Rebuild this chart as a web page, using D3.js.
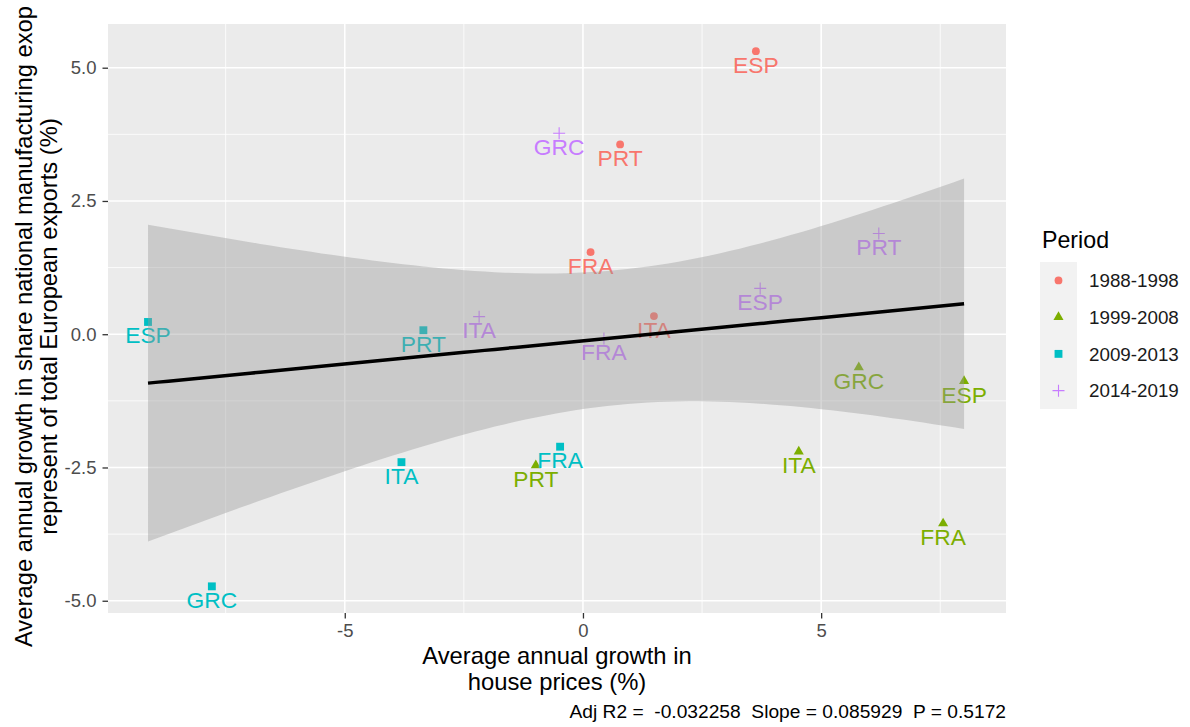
<!DOCTYPE html>
<html>
<head>
<meta charset="utf-8">
<script src="https://cdn.jsdelivr.net/npm/d3@7"></script>
<style>
  html, body { margin: 0; padding: 0; background: #ffffff; }
  svg { display: block; font-family: "Liberation Sans", Arial, sans-serif; }
</style>
</head>
<body>
<svg id="chart" width="1190" height="727"></svg>
<script>
// ---------------- DATA ----------------
const periods = ["1988-1998", "1999-2008", "2009-2013", "2014-2019"];
const periodColors = ["#F8766D", "#7CAE00", "#00BFC4", "#C77CFF"];
const periodShapes = ["circle", "triangle", "square", "plus"];

const p1Countries = ["ESP", "PRT", "FRA", "ITA"];
const p1House = [3.63, 0.78, 0.16, 1.49];
const p1Export = [5.31, 3.56, 1.54, 0.34];

const p2Countries = ["GRC", "ESP", "ITA", "FRA", "PRT"];
const p2House = [5.79, 8.0, 4.53, 7.56, -0.99];
const p2Export = [-0.62, -0.88, -2.2, -3.55, -2.46];

const p3Countries = ["ESP", "GRC", "PRT", "ITA", "FRA"];
const p3House = [-9.13, -7.79, -3.35, -3.81, -0.48];
const p3Export = [0.23, -4.73, 0.075, -2.4, -2.11];

const p4Countries = ["GRC", "PRT", "ESP", "ITA", "FRA"];
const p4House = [-0.5, 6.21, 3.72, -2.18, 0.44];
const p4Export = [3.77, 1.89, 0.86, 0.33, -0.08];

const xTicks = [-5, 0, 5];
const yTicks = [-5.0, -2.5, 0.0, 2.5, 5.0];
const xMinor = [-7.5, -2.5, 2.5, 7.5];
const yMinor = [-3.75, -1.25, 1.25, 3.75];

const xTitle = ["Average annual growth in", "house prices (%)"];
const yTitle = ["Average annual growth in share national manufacturing exop", "represent of total European exports (%)"];
const legendTitle = "Period";
const caption = "Adj R2 =  -0.032258  Slope = 0.085929  P = 0.5172";
const tCrit = 2.1098; // t(0.975, df = 17)

// ---------------- BUILD ----------------
const groups = [
  [p1Countries, p1House, p1Export],
  [p2Countries, p2House, p2Export],
  [p3Countries, p3House, p3Export],
  [p4Countries, p4House, p4Export]
];
const points = [];
groups.forEach((g, gi) => {
  g[0].forEach((c, i) => points.push({ country: c, x: g[1][i], y: g[2][i], p: gi }));
});

const svg = d3.select("#chart");
const W = 1190, H = 727;
const panel = { left: 108, right: 1006, top: 24, bottom: 613 };

svg.append("rect").attr("width", W).attr("height", H).attr("fill", "#ffffff");

const x = d3.scaleLinear().domain([-9.97, 8.88]).range([panel.left, panel.right]);
const y = d3.scaleLinear().domain([-5.23, 5.82]).range([panel.bottom, panel.top]);

// panel bg
svg.append("rect")
  .attr("x", panel.left).attr("y", panel.top)
  .attr("width", panel.right - panel.left).attr("height", panel.bottom - panel.top)
  .attr("fill", "#EBEBEB");

const grid = svg.append("g");
grid.selectAll(".vminor").data(xMinor).join("line")
  .attr("x1", d => x(d)).attr("x2", d => x(d))
  .attr("y1", panel.top).attr("y2", panel.bottom)
  .attr("stroke", "#ffffff").attr("stroke-width", 0.8);
grid.selectAll(".hminor").data(yMinor).join("line")
  .attr("y1", d => y(d)).attr("y2", d => y(d))
  .attr("x1", panel.left).attr("x2", panel.right)
  .attr("stroke", "#ffffff").attr("stroke-width", 0.8);
grid.selectAll(".vmajor").data(xTicks).join("line")
  .attr("x1", d => x(d)).attr("x2", d => x(d))
  .attr("y1", panel.top).attr("y2", panel.bottom)
  .attr("stroke", "#ffffff").attr("stroke-width", 1.6);
grid.selectAll(".hmajor").data(yTicks).join("line")
  .attr("y1", d => y(d)).attr("y2", d => y(d))
  .attr("x1", panel.left).attr("x2", panel.right)
  .attr("stroke", "#ffffff").attr("stroke-width", 1.6);

// symbols
function symbolPath(shape) {
  if (shape === "circle") return d3.symbol(d3.symbolCircle, 48)();
  if (shape === "triangle") return d3.symbol(d3.symbolTriangle, 44)();
  if (shape === "square") return d3.symbol(d3.symbolSquare, 62)();
  return "M-6,0H6M0,-6V6";
}
function drawSymbol(sel, shape, color) {
  sel.append("path")
    .attr("d", symbolPath(shape))
    .attr("fill", shape === "plus" ? "none" : color)
    .attr("stroke", shape === "plus" ? color : "none")
    .attr("stroke-width", 1.1);
}

const ptG = svg.append("g");
points.forEach(d => {
  const g = ptG.append("g").attr("transform", `translate(${x(d.x)},${y(d.y)})`);
  drawSymbol(g, periodShapes[d.p], periodColors[d.p]);
});

// labels
svg.append("g").selectAll("text").data(points).join("text")
  .attr("x", d => x(d.x))
  .attr("y", d => y(d.y - 0.25))
  .attr("dy", "0.36em")
  .attr("text-anchor", "middle")
  .attr("font-size", 22.8)
  .attr("fill", d => periodColors[d.p])
  .text(d => d.country);

// regression
const n = points.length;
const mx = d3.mean(points, d => d.x), my = d3.mean(points, d => d.y);
const sxx = d3.sum(points, d => (d.x - mx) ** 2);
const sxy = d3.sum(points, d => (d.x - mx) * (d.y - my));
const b = sxy / sxx, a = my - b * mx;
const sse = d3.sum(points, d => (d.y - a - b * d.x) ** 2);
const s = Math.sqrt(sse / (n - 2));
const [xmin, xmax] = d3.extent(points, d => d.x);
const band = d3.range(0, 81).map(i => {
  const xv = xmin + (xmax - xmin) * i / 80;
  const fit = a + b * xv;
  const se = s * Math.sqrt(1 / n + (xv - mx) ** 2 / sxx);
  return { x: xv, fit, lo: fit - tCrit * se, hi: fit + tCrit * se };
});
svg.append("path").datum(band)
  .attr("d", d3.area().x(d => x(d.x)).y0(d => y(d.lo)).y1(d => y(d.hi)))
  .attr("fill", "#999999").attr("fill-opacity", 0.4);
svg.append("path").datum(band)
  .attr("d", d3.line().x(d => x(d.x)).y(d => y(d.fit)))
  .attr("fill", "none").attr("stroke", "#000000").attr("stroke-width", 3.5);

// axes
const fmtY = d => d3.format(".1f")(d).replace("\u2212", "-");
const fmtX = d => d3.format("d")(d).replace("\u2212", "-");
const yAxis = svg.append("g").attr("transform", `translate(${panel.left},0)`)
  .call(d3.axisLeft(y).tickValues(yTicks).tickFormat(fmtY).tickSize(5.5).tickPadding(6));
const xAxis = svg.append("g").attr("transform", `translate(0,${panel.bottom})`)
  .call(d3.axisBottom(x).tickValues(xTicks).tickFormat(fmtX).tickSize(5.5).tickPadding(5.5));
[yAxis, xAxis].forEach(ax => {
  ax.select(".domain").remove();
  ax.selectAll(".tick line").attr("stroke", "#333333").attr("stroke-width", 1.3);
  ax.selectAll(".tick text").attr("fill", "#4D4D4D").attr("font-size", 18.5)
    .attr("font-family", "'Liberation Sans', Arial, sans-serif");
});

// axis titles
const xt = svg.append("text").attr("text-anchor", "middle").attr("font-size", 23.8).attr("fill", "#000");
xTitle.forEach((t, i) => xt.append("tspan").attr("x", (panel.left + panel.right) / 2).attr("y", 664 + i * 26).text(t));
const cy = (panel.top + panel.bottom) / 2 + 8;
yTitle.forEach((t, i) => {
  svg.append("text")
    .attr("transform", `translate(${32 + i * 25},${cy}) rotate(-90)`)
    .attr("text-anchor", "middle").attr("font-size", 23.8).attr("fill", "#000")
    .text(t);
});

// legend
svg.append("text").attr("x", 1042).attr("y", 248).attr("font-size", 23.2).attr("fill", "#000").text(legendTitle);
const keyTop = 262, keyH = 36.75;
svg.append("rect").attr("x", 1040).attr("y", keyTop).attr("width", 37).attr("height", keyH * 4).attr("fill", "#F2F2F2");
periods.forEach((p, i) => {
  const cyk = keyTop + keyH * (i + 0.5);
  const g = svg.append("g").attr("transform", `translate(1058.5,${cyk})`);
  drawSymbol(g, periodShapes[i], periodColors[i]);
  svg.append("text").attr("x", 1089).attr("y", cyk).attr("dy", "0.36em")
    .attr("font-size", 18.8).attr("fill", "#1A1A1A").text(p);
});

// caption
svg.append("text").attr("x", panel.right).attr("y", 718).attr("text-anchor", "end")
  .attr("font-size", 19.2).attr("fill", "#000").style("white-space", "pre").text(caption);
</script>
</body>
</html>
